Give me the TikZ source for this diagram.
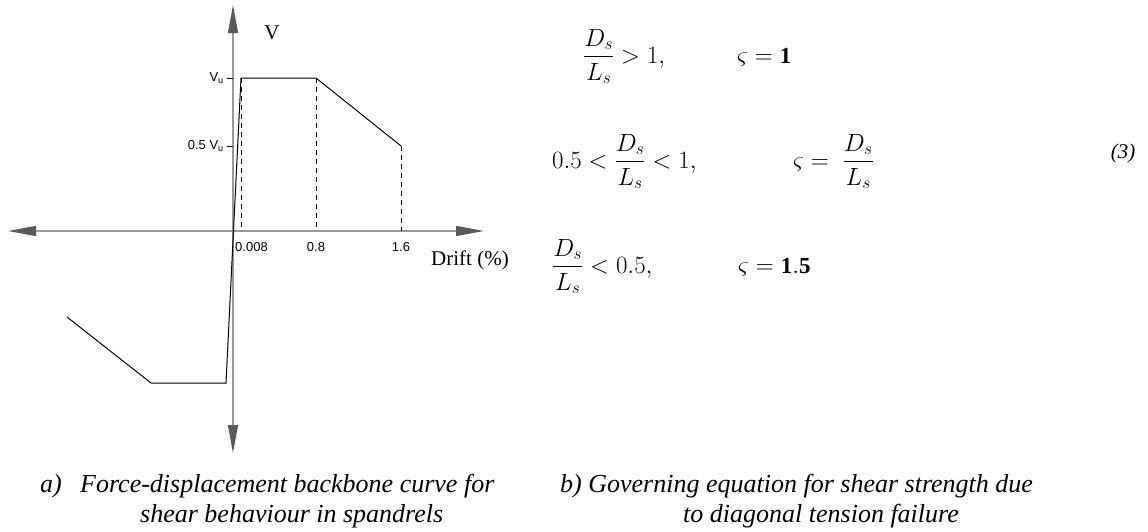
\documentclass[tikz,border=0pt]{standalone}
\usepackage{amsmath}
\usepackage{amssymb}
\usepackage{fontspec}
\setmainfont{Liberation Serif}
\setsansfont{Liberation Sans}
\usepackage{xcolor}
\usetikzlibrary{arrows.meta}
\definecolor{axisgray}{gray}{0.6}
\definecolor{tipgray}{gray}{0.35}

\begin{document}
\begin{tikzpicture}[x=1pt,y=-1pt,
    axis/.style={draw=axisgray, line width=1.3pt,
      {Triangle[length=28pt,width=10pt,color=tipgray]}-{Triangle[length=28pt,width=10pt,color=tipgray]}},
    ticklab/.style={font=\sffamily\fontsize{13}{15}\selectfont, inner sep=0pt},
    axlab/.style={font=\fontsize{21}{25}\selectfont, inner sep=0pt},
    eqn/.style={font=\fontsize{23}{28}\selectfont, inner sep=0pt, anchor=base west},
    capt/.style={font=\itshape\fontsize{26}{30}\selectfont, inner sep=0pt, anchor=base west}]
  \useasboundingbox (0,0) rectangle (1148,531);
  % axes
  \draw[axis] (8,231) -- (484,231); \draw[axis] (233,5) -- (233,453);
  \draw[line width=0.8pt] (227,78) -- (233,78); \draw[line width=0.8pt]
  (227,146) -- (233,146);
  \draw[dashed, dash pattern=on 5pt off 4pt, line width=0.8pt] (241,78) --
  (241,231) (316,78) -- (316,231) (401,146) -- (401,231);
  % backbone curve
  \draw[line width=1pt] (67,317) -- (151,383) -- (226,383) -- (241,78)
  -- (316,78) -- (401,146);
  \node[ticklab, anchor=east] (vu) at (224,78) {V\textsubscript{u}};
  \node[ticklab, anchor=east] (hvu) at (224,146) {0.5 V\textsubscript{u}};
  \node[ticklab, anchor=west] (d1) at (235,247) {0.008}; \node[ticklab]
  (d2) at (316,247) {0.8}; \node[ticklab] (d3) at (401,247) {1.6};
  \node[axlab] (vlab) at (272,33) {V}; \node[axlab, anchor=west] (drift)
  at (431,260) {Drift (\%)};
  % equations
  \node[eqn] (r1) at (583,63) {$\dfrac{D_s}{L_s} > 1,$}; \node[eqn]
  (z1) at (737,63) {$\varsigma = \mathbf{1}$};
  \node[eqn] (r2) at (552,168) {$0.5 < \dfrac{D_s}{L_s} < 1,$};
  \node[eqn] (z2) at (793,168) {$\varsigma = \;\dfrac{D_s}{L_s}$};
  \node[eqn] (r3) at (552,273) {$\dfrac{D_s}{L_s} < 0.5,$}; \node[eqn]
  (z3) at (738,273) {$\varsigma = \mathbf{1.5}$};
  \node[axlab, font=\itshape\fontsize{21}{25}\selectfont] (eqno) at
  (1123,153) {(3)};
  % captions
  \node[capt] (capa) at (40,492) {a)}; \node[capt] (capa1) at (80,492)
  {Force-displacement backbone curve for}; \node[capt] (capa2) at
  (140,522) {shear behaviour in spandrels};
  \node[capt] (capb1) at (560,492) {b) Governing equation for shear
    strength due}; \node[capt] (capb2) at (683,522) {to diagonal tension
    failure};
\end{tikzpicture}
\end{document}
